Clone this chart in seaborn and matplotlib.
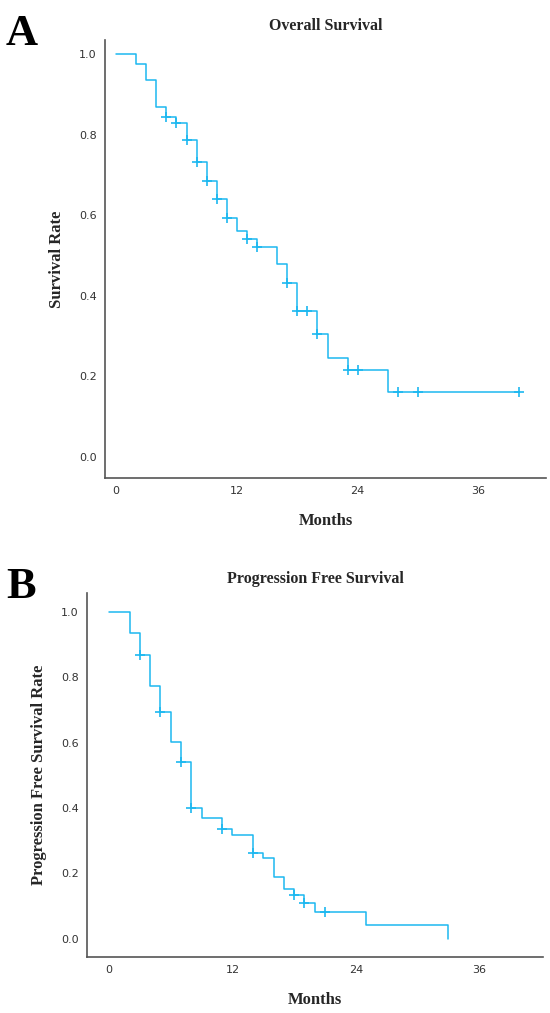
import matplotlib
matplotlib.use("Agg")
import matplotlib.pyplot as plt
import seaborn as sns
import pandas as pd

sns.set_theme(style="white")

os_time = [0, 2, 3, 4, 5, 6, 7, 8, 9, 10, 11, 12, 13, 14, 16, 17, 18, 20, 21, 23, 27, 40]
os_surv = [1.0, 0.975, 0.935, 0.869, 0.844, 0.830, 0.788, 0.731, 0.686, 0.640, 0.594, 0.560, 0.541, 0.522, 0.478, 0.433, 0.362, 0.306, 0.247, 0.215, 0.162, 0.162]
os_cens_t = [5, 6, 7, 8, 9, 10, 11, 13, 14, 17, 18, 19, 20, 23, 24, 28, 30, 40]
os_cens_s = [0.844, 0.830, 0.788, 0.731, 0.686, 0.640, 0.594, 0.541, 0.522, 0.433, 0.362, 0.362, 0.306, 0.215, 0.215, 0.162, 0.162, 0.162]

pfs_time = [0, 2, 3, 4, 5, 6, 7, 8, 9, 11, 12, 14, 15, 16, 17, 18, 19, 20, 25, 33, 33]
pfs_surv = [1.0, 0.936, 0.869, 0.773, 0.693, 0.602, 0.541, 0.401, 0.370, 0.337, 0.316, 0.263, 0.246, 0.189, 0.151, 0.133, 0.110, 0.082, 0.041, 0.041, 0.0]
pfs_cens_t = [3, 5, 7, 8, 11, 14, 18, 19, 21]
pfs_cens_s = [0.869, 0.693, 0.541, 0.401, 0.337, 0.263, 0.133, 0.110, 0.082]

ticks_x = [0, 12, 24, 36]
ticks_y = [0.0, 0.2, 0.4, 0.6, 0.8, 1.0]
color = "#1CB8F0"
serif = ["Liberation Serif", "DejaVu Serif"]

fig = plt.figure(figsize=(5.5, 10.13), dpi=100)
W, H = 550, 1013
axA = fig.add_axes([105 / W, 1 - 478 / H, 441 / W, 438 / H])
axB = fig.add_axes([87 / W, 1 - 957 / H, 456 / W, 364 / H])

def draw(ax, t, s, ct, cs, xlim, ylim, title, ylabel):
    df = pd.DataFrame({"t": t, "s": s})
    sns.lineplot(data=df, x="t", y="s", drawstyle="steps-post", color=color, lw=1.1, ax=ax, estimator=None, sort=False)
    cdf = pd.DataFrame({"t": ct, "s": cs})
    sns.scatterplot(data=cdf, x="t", y="s", marker="+", s=45, color=color, linewidth=1.2, ax=ax)
    ax.set_xlim(*xlim)
    ax.set_ylim(*ylim)
    ax.set_xticks(ticks_x)
    ax.set_yticks(ticks_y)
    ax.set_yticklabels([f"{v:.1f}" for v in ticks_y])
    ax.tick_params(labelsize=8, colors="#333333", length=0, pad=6)
    for sp in ["top", "right"]:
        ax.spines[sp].set_visible(False)
    for sp in ["left", "bottom"]:
        ax.spines[sp].set_color("#555555")
        ax.spines[sp].set_linewidth(1.2)
    ax.set_title(title, family=serif, fontweight="bold", fontsize=11.5, pad=7)
    ax.set_xlabel("Months", family=serif, fontweight="bold", fontsize=12, labelpad=12)
    ax.set_ylabel(ylabel, family=serif, fontweight="bold", fontsize=12, labelpad=10)

draw(axA, os_time, os_surv, os_cens_t, os_cens_s, (-1.1, 42.7), (-0.052, 1.035), "Overall Survival", "Survival Rate")
draw(axB, pfs_time, pfs_surv, pfs_cens_t, pfs_cens_s, (-2.14, 42.2), (-0.056, 1.058), "Progression Free Survival", "Progression Free Survival Rate")

fig.text(6 / W, 1 - 45 / H, "A", family=serif, fontweight="bold", fontsize=32, color="black")
fig.text(6 / W, 1 - 598 / H, "B", family=serif, fontweight="bold", fontsize=32, color="black")

fig.savefig("out.png", dpi=100)
